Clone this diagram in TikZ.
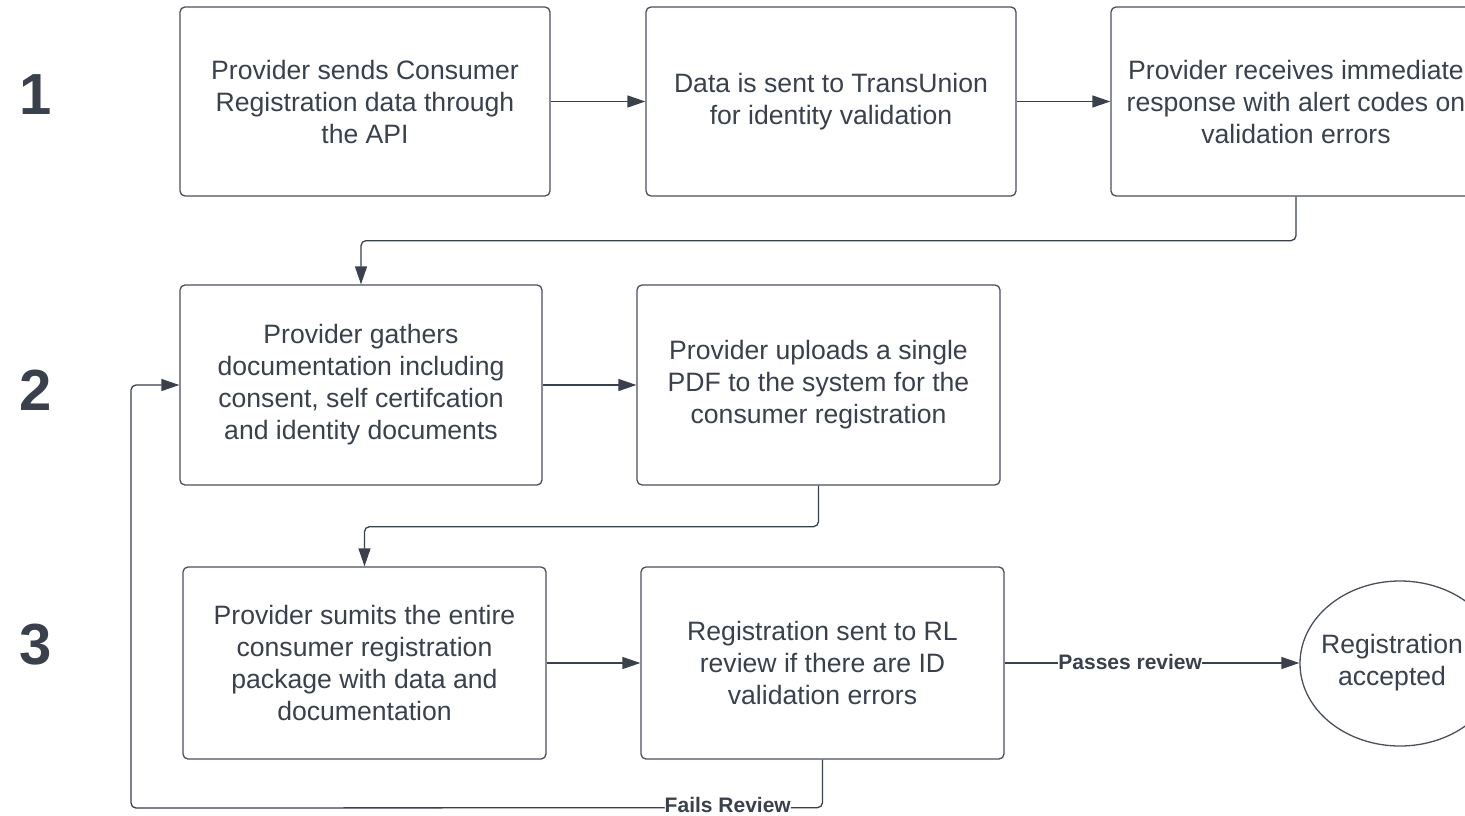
\documentclass[tikz,border=0pt]{standalone}
\usepackage{fontspec}
\setmainfont{Liberation Sans}
\usetikzlibrary{arrows.meta,shapes.geometric}
\definecolor{ink}{HTML}{3A414C}
\definecolor{edge}{HTML}{4A505A}
\begin{document}
\begin{tikzpicture}[x=1pt,y=-1pt,
  box/.style={draw=edge,line width=1.3pt,rounded corners=5pt,align=center,text=ink,
    font=\fontsize{26.6}{32}\selectfont,inner sep=0pt},
  arr/.style={draw=ink,line width=1.3pt,-{Triangle[length=18pt,width=12pt]}},
  lbl/.style={fill=white,text=ink,font=\fontsize{21}{24}\selectfont\bfseries,inner sep=0pt},
  num/.style={text=ink,font=\fontsize{58}{60}\selectfont\bfseries}]
\clip (0,0) rectangle (1465,816);
\fill[white] (0,0) rectangle (1465,816);
\node[num] (n1) at (36,95) {1};
\node[num] (n2) at (36,390) {2};
\node[num] (n3) at (36,645) {3};
\node[box,minimum width=370pt,minimum height=189pt] (A) at (365,101.5) {Provider sends Consumer\\Registration data through\\the API};
\node[box,minimum width=370pt,minimum height=189pt] (B) at (831,101.5) {Data is sent to TransUnion\\for identity validation};
\node[box,minimum width=370pt,minimum height=189pt] (C) at (1296,101.5) {Provider receives immediate\\response with alert codes on\\validation errors};
\node[box,minimum width=362pt,minimum height=200pt] (D) at (361,385) {Provider gathers\\documentation including\\consent, self certifcation\\and identity documents};
\node[box,minimum width=363pt,minimum height=200pt] (E) at (818.5,385) {Provider uploads a single\\PDF to the system for the\\consumer registration};
\node[box,minimum width=363pt,minimum height=192pt] (F) at (364.5,663) {Provider sumits the entire\\consumer registration\\package with data and\\documentation};
\node[box,minimum width=363pt,minimum height=192pt] (G) at (822.5,663) {Registration sent to RL\\review if there are ID\\validation errors};
\node[draw=edge,line width=1.3pt,ellipse,minimum width=200pt,minimum height=165pt,inner sep=0pt] (H) at (1400,663.5) {};
\node[text=ink,font=\fontsize{26.6}{32}\selectfont,align=center] (Ht) at (1392,663) {Registration\\accepted};
\draw[arr] (A) -- (B);
\draw[arr] (B) -- (C);
\draw[arr,rounded corners=5pt] (C.south) -- ++(0,44) -| (D.north);
\draw[arr] (D) -- (E);
\draw[arr,rounded corners=5pt] (E.south) -- ++(0,41) -| (F.north);
\draw[arr] (F) -- (G);
\draw[arr] (G.east) -- node[lbl,pos=0.426,yshift=1.5pt] {Passes review} (G.east -| H.west);
\coordinate (fl) at (131,808);
\draw[arr,rounded corners=5pt] (G.south) -- ++(0,48) -- node[lbl,pos=0.137,yshift=3pt] {Fails Review} (fl) |- (D.west);
\end{tikzpicture}
\end{document}
